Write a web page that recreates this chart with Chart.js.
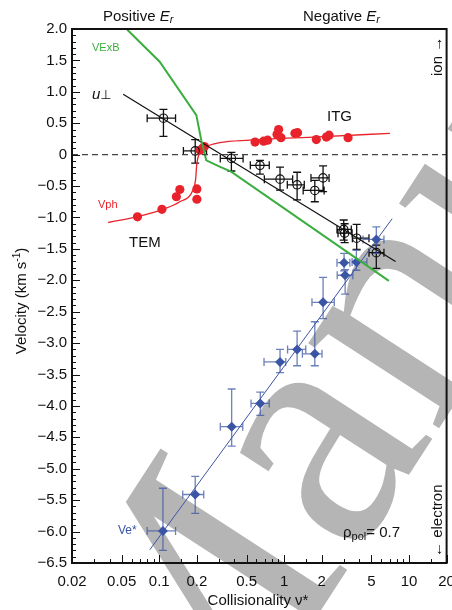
<!DOCTYPE html>
<html>
<head>
<meta charset="utf-8">
<script src="https://cdn.jsdelivr.net/npm/chart.js@4.4.1/dist/chart.umd.min.js"></script>
<style>
  html, body { margin: 0; padding: 0; background: #fff; }
</style>
</head>
<body>
<canvas id="velChart" width="452" height="610"></canvas>
<script>
// values (x = collisionality, y = velocity in km/s)
const xTickLabels = [0.02, 0.05, 0.1, 0.2, 0.5, 1, 2, 5, 10, 20];
const yTickLabels = [2.0, 1.5, 1.0, 0.5, 0, -0.5, -1.0, -1.5, -2.0, -2.5, -3.0, -3.5, -4.0, -4.5, -5.0, -5.5, -6.0, -6.5];

// E x B velocity (green)
const exbX = [0.0547, 0.1007, 0.198, 0.217, 0.238, 0.304, 0.376, 6.9];
const exbY = [2.0, 1.48, 0.63, 0.23, -0.09, -0.19, -0.27, -2.01];

// perpendicular velocity u_perp (open circles) and its fit
const uX   = [0.108, 0.194, 0.378, 0.64, 0.927, 1.27, 1.76, 2.05, 3.0, 3.05, 3.81, 5.47];
const uY   = [0.58, 0.06, -0.06, -0.17, -0.39, -0.48, -0.57, -0.37, -1.19, -1.25, -1.33, -1.56];
const uXlo = [0.080, 0.156, 0.308, 0.536, 0.694, 1.06, 1.42, 1.64, 2.65, 2.70, 3.52, 4.78];
const uXhi = [0.135, 0.239, 0.469, 0.76, 1.17, 1.45, 2.09, 2.29, 3.45, 3.50, 4.78, 6.30];
const uYlo = [0.29, -0.135, -0.26, -0.31, -0.565, -0.72, -0.75, -0.59, -1.36, -1.40, -1.51, -1.81];
const uYhi = [0.72, 0.24, 0.035, -0.09, -0.20, -0.28, -0.41, -0.18, -1.04, -1.10, -1.11, -1.44];
const uFitX = [0.0514, 7.8];
const uFitY = [0.96, -1.70];

// phase velocity (red dots) and its curve
const vphX = [0.0669, 0.105, 0.137, 0.146, 0.2, 0.2, 0.212, 0.222, 0.23, 0.585, 0.685, 0.738,
              0.877, 0.903, 0.943, 1.22, 1.28, 1.81, 2.18, 2.29, 3.25];
const vphY = [-0.99, -0.87, -0.67, -0.555, -0.545, -0.71, 0.07, 0.10, 0.13, 0.20, 0.215, 0.23,
              0.32, 0.40, 0.27, 0.34, 0.35, 0.24, 0.28, 0.31, 0.27];
const vphCurveX = [0.039, 0.0656, 0.107, 0.146, 0.186, 0.195, 0.2, 0.21, 0.238, 0.304, 0.527, 1.9, 7.03];
const vphCurveY = [-1.08, -0.99, -0.87, -0.75, -0.565, -0.41, -0.14, 0.02, 0.124, 0.19, 0.23, 0.283, 0.34];

// electron diamagnetic velocity ve* (blue diamonds) and its fit
const veX   = [0.107, 0.194, 0.38, 0.644, 0.927, 1.27, 1.76, 2.05, 3.02, 3.08, 3.79, 5.47];
const veY   = [-5.99, -5.41, -4.33, -3.96, -3.30, -3.10, -3.17, -2.35, -1.72, -1.92, -1.71, -1.35];
const veXlo = [0.080, 0.154, 0.308, 0.543, 0.69, 1.065, 1.40, 1.67, 2.65, 2.66, 3.50, 4.28];
const veXhi = [0.135, 0.227, 0.466, 0.76, 1.03, 1.49, 2.01, 2.52, 3.36, 3.55, 4.60, 6.30];
const veYlo = [-6.30, -5.71, -4.64, -4.15, -3.47, -3.36, -3.36, -2.61, -1.85, -2.22, -1.84, -1.57];
const veYhi = [-5.31, -5.12, -3.73, -3.78, -3.10, -2.81, -2.66, -1.955, -1.57, -1.83, -1.52, -1.15];
const veFitX = [0.0839, 7.33];
const veFitY = [-6.29, -1.02];

const zeroX = [0.02, 20];
const zeroY = [0, 0];

const SANS = "'Liberation Sans', Arial, sans-serif";
const RED = '#e8232b';
const GREEN = '#3aae3f';
const BLUE = '#3b55a5';

const pts = (xs, ys) => xs.map((v, i) => ({ x: v, y: ys[i] }));
const near = (list, v) => list.find(t => Math.abs(t - v) < 1e-6 * Math.max(1, Math.abs(t)) + 1e-9);

const errorSets = [
  { x: uX, y: uY, xLo: uXlo, xHi: uXhi, yLo: uYlo, yHi: uYhi, color: '#111' },
  { x: veX, y: veY, xLo: veXlo, xHi: veXhi, yLo: veYlo, yHi: veYhi, color: 'rgba(59,85,165,0.75)' }
];

// grey "Manuscript" stamp behind everything
const watermark = {
  id: 'watermark',
  beforeDraw(chart) {
    const ctx = chart.ctx;
    ctx.save();
    ctx.translate(188, 815);
    ctx.rotate(-57 * Math.PI / 180);
    ctx.fillStyle = '#b5b5b5';
    ctx.font = "340px 'Liberation Serif', serif";
    ctx.fillText('Manuscript', 0, 0);
    ctx.restore();
  }
};

const errorBars = {
  id: 'errorBars',
  beforeDatasetsDraw(chart) {
    const { ctx, scales: { x, y } } = chart;
    const cap = 4;
    errorSets.forEach(s => {
      ctx.save();
      ctx.strokeStyle = s.color;
      ctx.lineWidth = 1.3;
      ctx.beginPath();
      for (let i = 0; i < s.x.length; i++) {
        const px = x.getPixelForValue(s.x[i]);
        const py = y.getPixelForValue(s.y[i]);
        const x0 = x.getPixelForValue(s.xLo[i]);
        const x1 = x.getPixelForValue(s.xHi[i]);
        const y0 = y.getPixelForValue(s.yLo[i]);
        const y1 = y.getPixelForValue(s.yHi[i]);
        ctx.moveTo(x0, py); ctx.lineTo(x1, py);
        ctx.moveTo(px, y0); ctx.lineTo(px, y1);
        ctx.moveTo(x0, py - cap); ctx.lineTo(x0, py + cap);
        ctx.moveTo(x1, py - cap); ctx.lineTo(x1, py + cap);
        ctx.moveTo(px - cap, y0); ctx.lineTo(px + cap, y0);
        ctx.moveTo(px - cap, y1); ctx.lineTo(px + cap, y1);
      }
      ctx.stroke();
      ctx.restore();
    });
  }
};

function drawParts(ctx, x, y, parts, color) {
  ctx.fillStyle = color;
  ctx.textAlign = 'left';
  ctx.textBaseline = 'alphabetic';
  let cx = x;
  parts.forEach(p => {
    ctx.font = p.f;
    ctx.fillText(p.t, cx, y + (p.dy || 0));
    cx += ctx.measureText(p.t).width;
  });
}

function partsWidth(ctx, parts) {
  let w = 0;
  parts.forEach(p => { ctx.font = p.f; w += ctx.measureText(p.t).width; });
  return w;
}

const notes = [
  { x: 103, y: 21, c: '#111', parts: [{ t: 'Positive ', f: `15px ${SANS}` }, { t: 'E', f: `italic 15px ${SANS}` }, { t: 'r', f: `italic 11px ${SANS}`, dy: 2 }] },
  { x: 303, y: 21, c: '#111', parts: [{ t: 'Negative ', f: `15px ${SANS}` }, { t: 'E', f: `italic 15px ${SANS}` }, { t: 'r', f: `italic 11px ${SANS}`, dy: 2 }] },
  { x: 92, y: 51, c: GREEN, parts: [{ t: 'VExB', f: `11px ${SANS}` }] },
  { x: 92, y: 99, c: '#111', parts: [{ t: 'u', f: `italic 15px ${SANS}` }, { t: '⊥', f: `13px 'DejaVu Sans', sans-serif` }] },
  { x: 327, y: 121, c: '#111', parts: [{ t: 'ITG', f: `15px ${SANS}` }] },
  { x: 98, y: 208, c: RED, parts: [{ t: 'Vph', f: `11px ${SANS}` }] },
  { x: 129, y: 247, c: '#111', parts: [{ t: 'TEM', f: `15px ${SANS}` }] },
  { x: 118, y: 534, c: BLUE, parts: [{ t: 'Ve*', f: `12px ${SANS}` }] },
  { x: 343, y: 537, c: '#111', parts: [{ t: 'ρ', f: `15px ${SANS}` }, { t: 'pol', f: `11px ${SANS}`, dy: 3 }, { t: '= 0.7', f: `15px ${SANS}` }] }
];

const frameAndText = {
  id: 'frameAndText',
  afterDraw(chart) {
    const { ctx, chartArea: a, scales: { x, y } } = chart;
    ctx.save();
    // inward tick marks
    ctx.strokeStyle = '#111';
    ctx.lineWidth = 1;
    ctx.beginPath();
    y.ticks.forEach(t => {
      const py = Math.round(y.getPixelForValue(t.value)) + 0.5;
      const len = near(yTickLabels, t.value) !== undefined ? 8 : 4;
      ctx.moveTo(a.left, py); ctx.lineTo(a.left + len, py);
    });
    x.ticks.forEach(t => {
      const px = Math.round(x.getPixelForValue(t.value)) + 0.5;
      const len = near(xTickLabels, t.value) !== undefined ? 8 : 4;
      ctx.moveTo(px, a.bottom); ctx.lineTo(px, a.bottom - len);
    });
    ctx.stroke();
    // frame
    ctx.lineWidth = 2;
    ctx.strokeRect(a.left, a.top, a.right - a.left, a.bottom - a.top);

    notes.forEach(n => drawParts(ctx, n.x, n.y, n.parts, n.c));

    // side labels, rotated
    const side = (txt, bx, by) => {
      ctx.save();
      ctx.translate(bx, by);
      ctx.rotate(-Math.PI / 2);
      drawParts(ctx, 0, 0, [{ t: txt, f: `15px ${SANS}` }], '#111');
      ctx.restore();
    };
    side('ion →', 441.5, 76);
    side('← electron', 441.5, 557);

    // y axis title with superscript
    const yTitle = [{ t: 'Velocity (km s', f: `15px ${SANS}` }, { t: '-1', f: `10px ${SANS}`, dy: -6 }, { t: ')', f: `15px ${SANS}` }];
    ctx.save();
    ctx.translate(25.5, 301);
    ctx.rotate(-Math.PI / 2);
    drawParts(ctx, -partsWidth(ctx, yTitle) / 2, 0, yTitle, '#111');
    ctx.restore();

    // x axis title
    const xTitle = [{ t: 'Collisionality ν*', f: `15px ${SANS}` }];
    drawParts(ctx, 258 - partsWidth(ctx, xTitle) / 2, 605, xTitle, '#111');
    ctx.restore();
  }
};

new Chart(document.getElementById('velChart'), {
  type: 'scatter',
  data: {
    datasets: [
      { data: pts(zeroX, zeroY), showLine: true, borderColor: '#444', borderWidth: 1.4, borderDash: [6, 4], pointRadius: 0 },
      { data: pts(exbX, exbY), showLine: true, borderColor: GREEN, borderWidth: 2, pointRadius: 0, tension: 0 },
      { data: pts(uFitX, uFitY), showLine: true, borderColor: '#111', borderWidth: 1.2, pointRadius: 0 },
      { data: pts(vphCurveX, vphCurveY), showLine: true, borderColor: RED, borderWidth: 1.3, pointRadius: 0, cubicInterpolationMode: 'monotone' },
      { data: pts(veFitX, veFitY), showLine: true, borderColor: BLUE, borderWidth: 1, pointRadius: 0 },
      { data: pts(uX, uY), pointStyle: 'circle', pointRadius: 4.2, borderColor: '#111', borderWidth: 1.2, backgroundColor: 'rgba(0,0,0,0)' },
      { data: pts(vphX, vphY), pointStyle: 'circle', pointRadius: 4.6, borderWidth: 0, backgroundColor: RED },
      { data: pts(veX, veY), pointStyle: 'rectRot', pointRadius: 5, borderWidth: 0, backgroundColor: BLUE }
    ]
  },
  options: {
    responsive: false,
    animation: false,
    layout: { padding: { top: 29, right: 4, left: 0, bottom: 0 } },
    plugins: { legend: { display: false }, tooltip: { enabled: false } },
    scales: {
      x: {
        type: 'logarithmic',
        min: 0.02,
        max: 20,
        grid: { display: false, drawTicks: false },
        border: { display: false },
        ticks: {
          autoSkip: false,
          maxRotation: 0,
          padding: 10,
          color: '#111',
          font: { family: SANS, size: 15 },
          callback: v => { const t = near(xTickLabels, v); return t === undefined ? '' : String(t); }
        },
        afterFit: s => { s.height = 47; s.paddingLeft = 0; s.paddingRight = 0; }
      },
      y: {
        min: -6.5,
        max: 2.0,
        grid: { display: false, drawTicks: false },
        border: { display: false },
        ticks: {
          stepSize: 0.1,
          autoSkip: false,
          padding: 5,
          color: '#111',
          font: { family: SANS, size: 15 },
          callback: v => {
            const t = near(yTickLabels, v);
            if (t === undefined) return '';
            return t === 0 ? '0' : (t < 0 ? '−' : '') + Math.abs(t).toFixed(1);
          }
        },
        afterFit: s => { s.width = 72; s.paddingTop = 0; s.paddingBottom = 0; }
      }
    }
  },
  plugins: [watermark, errorBars, frameAndText]
});
</script>
</body>
</html>
